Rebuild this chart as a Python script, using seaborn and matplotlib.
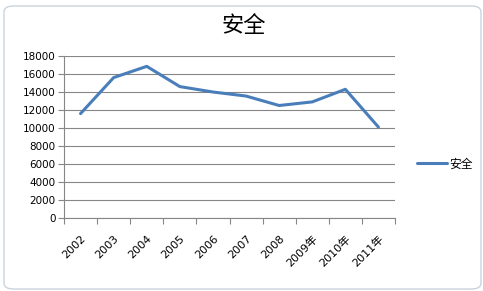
import matplotlib
matplotlib.use("Agg")
import matplotlib.pyplot as plt
from matplotlib.patches import FancyBboxPatch
from matplotlib.ticker import FixedLocator, MultipleLocator
import seaborn as sns
import pandas as pd
import numpy as np

years = ["2002", "2003", "2004", "2005", "2006", "2007", "2008", "2009年", "2010年", "2011年"]
values = [11600, 15600, 16850, 14600, 14000, 13550, 12500, 12900, 14300, 10100]
series_name = "安全"
title = "安全"

sns.set_theme(style="white")
plt.rcParams['font.family'] = ['DejaVu Sans', 'Noto Sans CJK SC']
plt.rcParams['text.color'] = 'black'
plt.rcParams['xtick.color'] = 'black'
plt.rcParams['ytick.color'] = 'black'

fig = plt.figure(figsize=(4.83, 2.91), dpi=100)
fig.patch.set_facecolor("white")
ax = fig.add_axes([64/483, 1-218/291, (395-64)/483, (218-56)/291])

df = pd.DataFrame({"year": years, "value": values})
df["pos"] = np.arange(len(years))
sns.lineplot(data=df, x="pos", y="value", ax=ax, color="#4A7EBB", linewidth=2.2,
             label=series_name, legend=False)

ax.set_xlim(-0.5, len(years) - 0.5)
ax.set_ylim(0, 18000)
ax.yaxis.set_major_locator(MultipleLocator(2000))
ax.grid(axis="y", color="#868686", linewidth=0.8)
ax.grid(axis="x", visible=False)
for s in ["top", "right"]:
    ax.spines[s].set_visible(False)
for s in ["left", "bottom"]:
    ax.spines[s].set_color("#868686")
    ax.spines[s].set_linewidth(0.8)

ax.set_xticks(df["pos"])
ax.set_xticklabels(years, rotation=45, ha="right", rotation_mode="anchor",
                   fontsize=8, family=['DejaVu Sans', 'Noto Sans CJK SC'])
ax.xaxis.set_minor_locator(FixedLocator(np.arange(-0.5, len(years), 1.0)))
ax.tick_params(axis="x", which="major", length=0, pad=11)
ax.tick_params(axis="x", which="minor", length=4, color="#868686", width=0.8, direction="out", bottom=True)
ax.tick_params(axis="y", length=4, color="#868686", width=0.8, direction="out", left=True, labelsize=7.5, pad=2)
for lbl in ax.get_yticklabels():
    lbl.set_color("black")
ax.set_xlabel("")
ax.set_ylabel("")

fig.text(244/483, 1-25/291, title, ha="center", va="center", fontsize=16,
         family=['Noto Sans CJK SC'], color="black")

fig.legend(handles=ax.get_lines()[:1], labels=[series_name], loc="center left",
           bbox_to_anchor=(406/483, 1-164/291), frameon=False,
           prop={"family": "Noto Sans CJK SC", "size": 8.5}, handlelength=2.6, handletextpad=0.2)

border = FancyBboxPatch((4/483, 2/291), 477/483, 283/291, boxstyle="round,pad=0,rounding_size=0.02",
                        transform=fig.transFigure, fill=False, edgecolor="#C9D3DC", linewidth=1.0)
fig.patches.append(border)

fig.savefig("out.png", dpi=100)
